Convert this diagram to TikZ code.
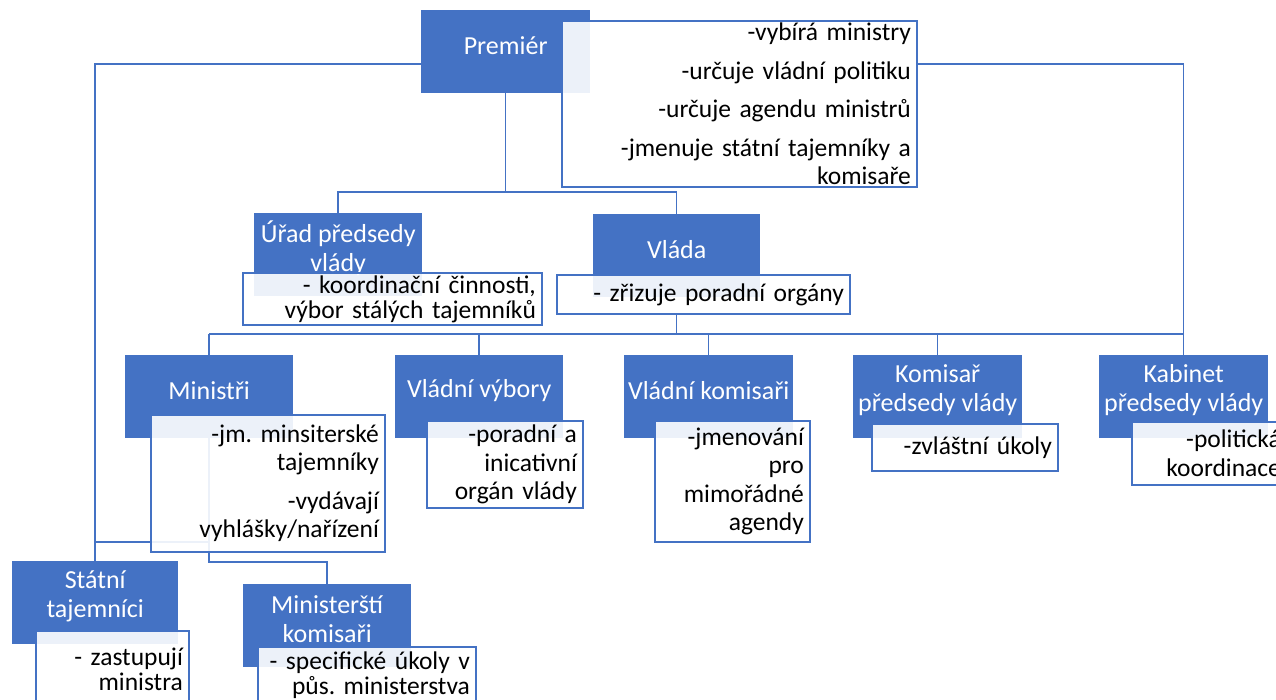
\documentclass[tikz,border=0pt]{standalone}
\usepackage{fontspec}
\setmainfont{Carlito}
\usetikzlibrary{calc}
\definecolor{ob}{HTML}{4472C4}
\pgfdeclarelayer{background}
\pgfsetlayers{background,main}
\frenchspacing
\begin{document}
\begin{tikzpicture}[x=1pt,y=-1pt,
  conn/.style={draw=ob, line width=1.5pt},
  bluebox/.style={fill=ob, draw=none, inner sep=0pt, anchor=north west, minimum height=83pt},
  bluetext/.style={text=white, align=center, font=\fontsize{26}{29}\selectfont, inner sep=0pt},
  notebox/.style={draw=ob, line width=1.8pt, fill=white, fill opacity=0.9, text opacity=1,
    anchor=north west, align=right, inner xsep=5pt, inner ysep=0pt,
    font=\fontsize{25.5}{28.5}\selectfont, text=black},
  tight/.style={font=\fontsize{25.5}{25}\selectfont},
]
\useasboundingbox (0,0) rectangle (1276,699);
\clip (0,0) rectangle (1276,699);

% top level
\node[bluebox, minimum width=169pt] (premier) at (421,10) {};
\node[bluetext] (premier-t) at ([yshift=6.5pt]premier.center) {Premiér};
\node[notebox, minimum width=355pt, text width=343pt, minimum height=166pt] (premiern) at (561,20)
  {-vybírá ministry\\[10pt]-určuje vládní politiku\\[10pt]-určuje agendu ministrů\\[10pt]-jmenuje státní tajemníky a\\komisaře};

% second level
\node[bluebox, minimum width=168pt] (urad) at (254,213) {};
\node[bluetext] (urad-t) at ([yshift=6.5pt]urad.center) {Úřad předsedy\\vlády};
\node[notebox, tight, minimum width=299pt, text width=287pt, minimum height=52pt] (uradn) at (242,272)
  {- koordinační činnosti,\\výbor stálých tajemníků};

\node[bluebox, minimum width=167pt] (vlada) at (593,214) {};
\node[bluetext] (vlada-t) at ([yshift=6.5pt]vlada.center) {Vláda};
\node[notebox, minimum width=293pt, text width=281pt, minimum height=39pt] (vladan) at (556,274)
  {- zřizuje poradní orgány};

% third level
\node[bluebox, minimum width=168pt] (ministri) at (125,355) {};
\node[bluetext] (ministri-t) at ([yshift=6.5pt]ministri.center) {Ministři};
\node[notebox, minimum width=234pt, text width=222pt, minimum height=137pt] (ministrin) at (150,414)
  {-jm. minsiterské\\tajemníky\\[10pt]-vydávají\\vyhlášky/nařízení};

\node[bluebox, minimum width=168pt] (vybory) at (395,355) {};
\node[bluetext] (vybory-t) at ([yshift=6.5pt]vybory.center) {Vládní výbory};
\node[notebox, minimum width=156pt, text width=144pt, minimum height=87pt] (vyboryn) at (426,420)
  {-poradní a\\inicativní\\orgán vlády};

\node[bluebox, minimum width=169pt] (komisari) at (624,355) {};
\node[bluetext] (komisari-t) at ([yshift=6.5pt]komisari.center) {Vládní komisaři};
\node[notebox, minimum width=155pt, text width=143pt, minimum height=121pt] (komisarin) at (654,420)
  {-jmenování\\pro\\mimořádné\\agendy};

\node[bluebox, minimum width=169pt] (komisar) at (853,355) {};
\node[bluetext] (komisar-t) at ([yshift=6.5pt]komisar.center) {Komisař\\předsedy vlády};
\node[notebox, minimum width=186pt, text width=174pt, minimum height=47pt] (komisarn) at (871,423)
  {-zvláštní úkoly};

\node[bluebox, minimum width=169pt] (kabinet) at (1099,355) {};
\node[bluetext] (kabinet-t) at ([yshift=6.5pt]kabinet.center) {Kabinet\\předsedy vlády};
\node[notebox, minimum width=155pt, text width=143pt, minimum height=63pt] (kabinetn) at (1131,421)
  {-politická\\koordinace};

% fourth level
\node[bluebox, minimum width=166pt] (statni) at (12,561) {};
\node[bluetext] (statni-t) at ([yshift=6.5pt]statni.center) {Státní\\tajemníci};
\node[notebox, tight, minimum width=153pt, text width=141pt, minimum height=76pt] (statnin) at (35,630)
  {- zastupují\\ministra};

\node[bluebox, minimum width=168pt] (minkom) at (243,584) {};
\node[bluetext] (minkom-t) at ([yshift=6.5pt]minkom.center) {Ministerští\\komisaři};
\node[notebox, tight, minimum width=218pt, text width=206pt, minimum height=56pt] (minkomn) at (257,646)
  {- specifické úkoly v\\půs. ministerstva};

% connectors, behind the boxes
\coordinate (pl) at (0,64);
\coordinate (b1) at (0,192);
\coordinate (b2) at (0,334);
\coordinate (b3) at (0,542);
\coordinate (b4) at (0,562);
\begin{pgfonlayer}{background}
  \draw[conn] (premier.west |- pl) -| (statni.north);
  \draw[conn] (premiern.east |- pl) -| (kabinet.north);
  \draw[conn] (premier.south) -- (premier.south |- b1) -| (urad.north);
  \draw[conn] (premier.south |- b1) -| (vlada.north);
  \draw[conn] (vlada.south |- vladan.south) -- (vlada.south |- b2);
  \draw[conn] (ministri.north |- b2) -- (kabinet.north |- b2);
  \foreach \n in {ministri,vybory,komisari,komisar}
    \draw[conn] (\n.north |- b2) -- (\n.north);
  \draw[conn] (ministri.south) -- (ministri.south |- b3) -| (statni.north);
  \draw[conn] (ministri.south |- b3) -- (ministri.south |- b4) -| (minkom.north);
\end{pgfonlayer}
\end{tikzpicture}
\end{document}
